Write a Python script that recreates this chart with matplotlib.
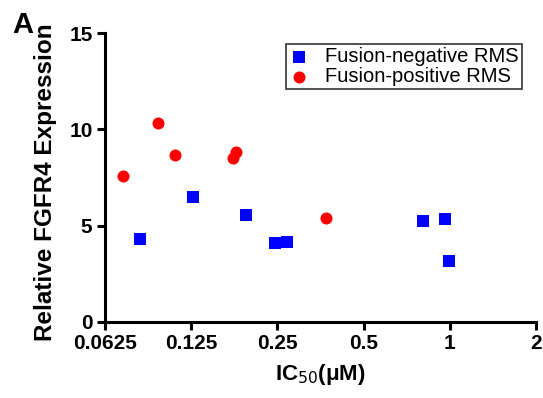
import matplotlib.pyplot as plt
from matplotlib.ticker import FixedLocator, FixedFormatter, NullLocator

plt.rcParams['font.family'] = ['Liberation Sans', 'DejaVu Sans']

# fusion-negative RMS (blue squares)
neg_ic50 = [0.0825, 0.1265, 0.194, 0.246, 0.271, 0.807, 0.964, 0.995]
neg_expr = [4.32, 6.47, 5.55, 4.08, 4.17, 5.26, 5.36, 3.17]

# fusion-positive RMS (red circles)
pos_ic50 = [0.0721, 0.096, 0.1097, 0.175, 0.179, 0.369]
pos_expr = [7.59, 10.33, 8.68, 8.49, 8.81, 5.40]

xticks = [0.0625, 0.125, 0.25, 0.5, 1, 2]
xticklabels = ["0.0625", "0.125", "0.25", "0.5", "1", "2"]
yticks = [0, 5, 10, 15]

fig = plt.figure(figsize=(5.43, 3.98), dpi=100)
ax = fig.add_axes([0.1934, 0.191, 0.7936, 0.726])

ax.scatter(neg_ic50, neg_expr, marker='s', s=75, color='#0000ff', label='Fusion-negative RMS', zorder=3, linewidths=0)
ax.scatter(pos_ic50, pos_expr, marker='o', s=75, color='#ff0000', label='Fusion-positive RMS', zorder=3, linewidths=0)

ax.set_xscale('log', base=2)
ax.set_xlim(0.0625, 2)
ax.set_ylim(0, 15)
ax.xaxis.set_major_locator(FixedLocator(xticks))
ax.xaxis.set_major_formatter(FixedFormatter(xticklabels))
ax.xaxis.set_minor_locator(NullLocator())
ax.set_yticks(yticks)

for side in ['top', 'right']:
    ax.spines[side].set_visible(False)
for side in ['left', 'bottom']:
    ax.spines[side].set_linewidth(2.2)
ax.tick_params(axis='both', which='major', direction='out', length=6, width=2.2,
               labelsize=15, pad=3)
for lab in ax.get_xticklabels() + ax.get_yticklabels():
    lab.set_fontweight('bold')

ax.set_xlabel(r'IC$_{50}$($\mathregular{\mu}$M)', fontsize=16, fontweight='bold', labelpad=6)
ax.set_ylabel('Relative FGFR4 Expression', fontsize=17.5, fontweight='bold')
ax.yaxis.set_label_coords(-0.112, 0.485)

leg = ax.legend(loc='upper right', bbox_to_anchor=(0.976, 0.975), fontsize=14.5, frameon=True,
                fancybox=False, edgecolor='black', handletextpad=0.8, borderpad=0.15,
                labelspacing=0.05, handlelength=1.0, borderaxespad=0.2, markerscale=1.0)
leg.get_frame().set_linewidth(1.2)

fig.text(0.022, 0.918, 'A', fontsize=21, fontweight='bold')

fig.savefig('out.png', dpi=100)
